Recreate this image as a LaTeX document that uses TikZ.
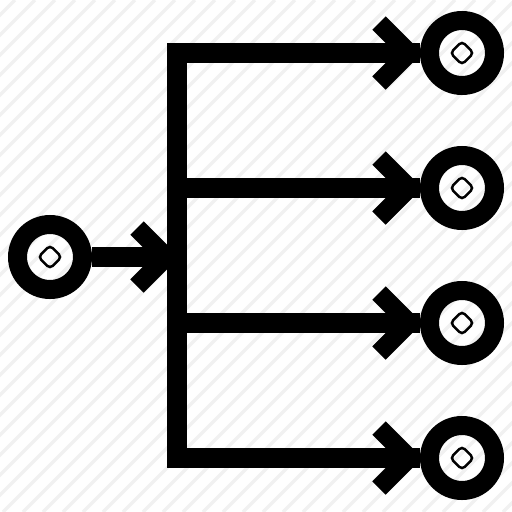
\documentclass[tikz,border=0pt]{standalone}
\usepackage{tikz}
\usetikzlibrary{calc}
\definecolor{stripe}{HTML}{F1F1F1}

\begin{document}
\begin{tikzpicture}[x=1pt, y=-1pt,
    wire/.style={line width=20pt, line join=miter},
    chev/.style={line width=19pt, line join=miter},
    ring/.style={circle, draw, line width=19pt, minimum size=65pt, inner sep=0pt},
    dot/.style={draw, rotate=45, rounded corners=4pt, line width=2.5pt, minimum size=16.5pt, inner sep=0pt}]

      % Fix the frame and draw the hatched background
      \useasboundingbox (0,0) rectangle (512,512);
      \begin{scope}
        \clip (0,0) rectangle (512,512);
        \foreach \c in {-520,-500,...,520}
          \draw[stripe, line width=3.5pt] (\c+3,512) -- ++(512,-512);
      \end{scope}

      % Source and the four targets
      \node[ring] (src) at (50,257) {};
      \node[ring] (t1) at (462,53) {};
      \node[ring] (t2) at (462,188) {};
      \node[ring] (t3) at (462,323) {};
      \node[ring] (t4) at (462,458) {};

      % Small rounded squares inside the rings
      \node[dot] (d0) at (src) {};
      \foreach \i in {1,...,4}
        \node[dot] (d\i) at (t\i) {};

      % Points on the vertical bus
      \coordinate (b0) at (177,257);
      \coordinate (b2) at (177,188);
      \coordinate (b3) at (177,323);
      \coordinate (b4) at (177,458);

      % Bus with the outer branches
      \draw[wire] (t1.west) -| (b4) -- (t4.west);
      \draw[wire] (b2) -- (t2.west);
      \draw[wire] (b3) -- (t3.west);

      % Input line into the bus
      \draw[wire] (src.east) -- (b0);
      \draw[chev] ([shift={(-40,-29)}]b0) -- ++(29,29) -- ++(-29,29);

      % Arrow heads before the targets
      \foreach \i in {1,...,4}
        \draw[chev] ([shift={(-83,-30)}]t\i.center) -- ++(30,30) -- ++(-30,30);
    \end{tikzpicture}
\end{document}
